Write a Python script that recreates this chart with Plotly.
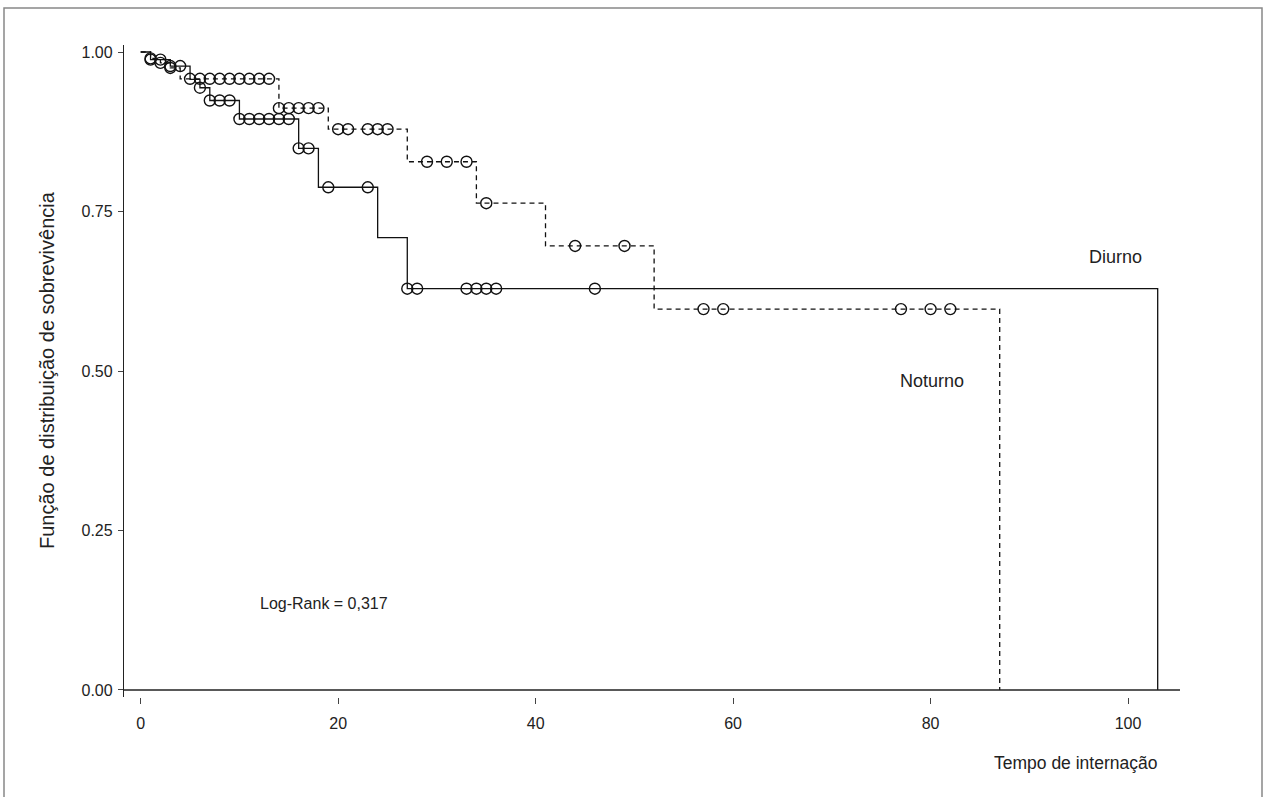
import plotly.graph_objects as go

# ---- Data ----
# Diurno (solid): event times and survival level after each event
diurno_times = [0, 1, 3, 5, 6, 7, 10, 16, 18, 24, 27, 103]
diurno_surv = [1.0, 0.988, 0.978, 0.957, 0.944, 0.924, 0.895, 0.849, 0.788, 0.709, 0.629, 0.0]
diurno_censored = [1, 2, 3, 4, 6, 7, 8, 9, 10, 11, 12, 13, 14, 15, 16, 17, 19, 23, 27, 28, 33, 34, 35, 36, 46]

# Noturno (dashed)
noturno_times = [0, 1, 2, 3, 4, 14, 19, 27, 34, 41, 52, 87]
noturno_surv = [1.0, 0.99, 0.983, 0.975, 0.958, 0.912, 0.879, 0.828, 0.763, 0.696, 0.597, 0.0]
noturno_censored = [1, 2, 3, 5, 6, 7, 8, 9, 10, 11, 12, 13, 14, 15, 16, 17, 18, 20, 21, 23, 24, 25,
                    29, 31, 33, 35, 44, 49, 57, 59, 77, 80, 82]

x_ticks = [0, 20, 40, 60, 80, 100]
y_ticks = [0.0, 0.25, 0.5, 0.75, 1.0]
y_tick_labels = ["0.00", "0.25", "0.50", "0.75", "1.00"]


def level_at(times, surv, t):
    s = surv[0]
    for ti, si in zip(times, surv):
        if ti <= t:
            s = si
    return s


FONT = "Liberation Sans, Arial, sans-serif"
TXT = "#222222"

fig = go.Figure()

fig.add_trace(go.Scatter(
    x=diurno_times, y=diurno_surv, mode="lines", line_shape="hv",
    line=dict(color="#111111", width=1.3), showlegend=False, hoverinfo="skip"))
fig.add_trace(go.Scatter(
    x=noturno_times, y=noturno_surv, mode="lines", line_shape="hv",
    line=dict(color="#111111", width=1.3, dash="5px,4px"), showlegend=False, hoverinfo="skip"))

fig.add_trace(go.Scatter(
    x=diurno_censored, y=[level_at(diurno_times, diurno_surv, t) for t in diurno_censored],
    mode="markers", marker=dict(symbol="circle-open", size=11, color="#111111", line=dict(width=1.4)),
    showlegend=False, hoverinfo="skip"))
fig.add_trace(go.Scatter(
    x=noturno_censored, y=[level_at(noturno_times, noturno_surv, t) for t in noturno_censored],
    mode="markers", marker=dict(symbol="circle-open", size=11, color="#111111", line=dict(width=1.4)),
    showlegend=False, hoverinfo="skip"))

# plot area in pixels: left 124, right 1180, top 45, bottom 697
L, R, T, B = 124, 1180, 45, 697
W, H = 1266, 797


def px_to_paper_x(px):
    return (px - L) / (R - L)


def px_to_paper_y(py):
    return (B - py) / (B - T)


shapes = [
    # x axis line at y = 0
    dict(type="line", xref="paper", yref="y", x0=0, x1=1, y0=0, y1=0,
         line=dict(color="#222222", width=1.3)),
    # outer frame
    dict(type="rect", xref="paper", yref="paper",
         x0=px_to_paper_x(4), x1=px_to_paper_x(1262), y0=px_to_paper_y(800), y1=px_to_paper_y(8),
         line=dict(color="#888888", width=1.5)),
]

annotations = [
    dict(x=98.7, y=0.679, xref="x", yref="y", text="Diurno", showarrow=False,
         xanchor="center", font=dict(family=FONT, size=18, color=TXT)),
    dict(x=80.1, y=0.484, xref="x", yref="y", text="Noturno", showarrow=False,
         xanchor="center", font=dict(family=FONT, size=18, color=TXT)),
    dict(x=18.6, y=0.135, xref="x", yref="y", text="Log-Rank = 0,317", showarrow=False,
         xanchor="center", font=dict(family=FONT, size=16, color=TXT)),
    dict(x=px_to_paper_x(1075), y=px_to_paper_y(763), xref="paper", yref="paper",
         text="Tempo de internação", showarrow=False, xanchor="center", yanchor="middle",
         font=dict(family=FONT, size=17.5, color=TXT)),
    dict(x=px_to_paper_x(47), y=px_to_paper_y(370), xref="paper", yref="paper",
         text="Função de distribuição de sobrevivência", showarrow=False, textangle=-90,
         xanchor="center", yanchor="middle", font=dict(family=FONT, size=20, color=TXT)),
]

fig.update_layout(
    width=W, height=H,
    margin=dict(l=L, r=W - R, t=T, b=H - B, pad=0),
    paper_bgcolor="white", plot_bgcolor="white",
    shapes=shapes, annotations=annotations,
    font=dict(family=FONT, color=TXT),
    xaxis=dict(range=[-1.69, 105.26], tickvals=x_ticks, ticktext=[str(v) for v in x_ticks],
               showgrid=False, zeroline=False, showline=False,
               ticks="outside", ticklen=6, tickwidth=1, tickcolor="#444444",
               ticklabelstandoff=6,
               tickfont=dict(family=FONT, size=16, color=TXT)),
    yaxis=dict(range=[-0.011, 1.011], tickvals=y_ticks, ticktext=y_tick_labels,
               showgrid=False, zeroline=False, showline=True, linecolor="#222222", linewidth=1.3,
               ticks="outside", ticklen=5, tickwidth=1, tickcolor="#444444",
               ticklabelstandoff=2,
               tickfont=dict(family=FONT, size=16, color=TXT)),
)

fig.write_html("out.html", config={"displayModeBar": False},
               post_script="document.body.style.margin='0';document.body.style.overflow='hidden';")
